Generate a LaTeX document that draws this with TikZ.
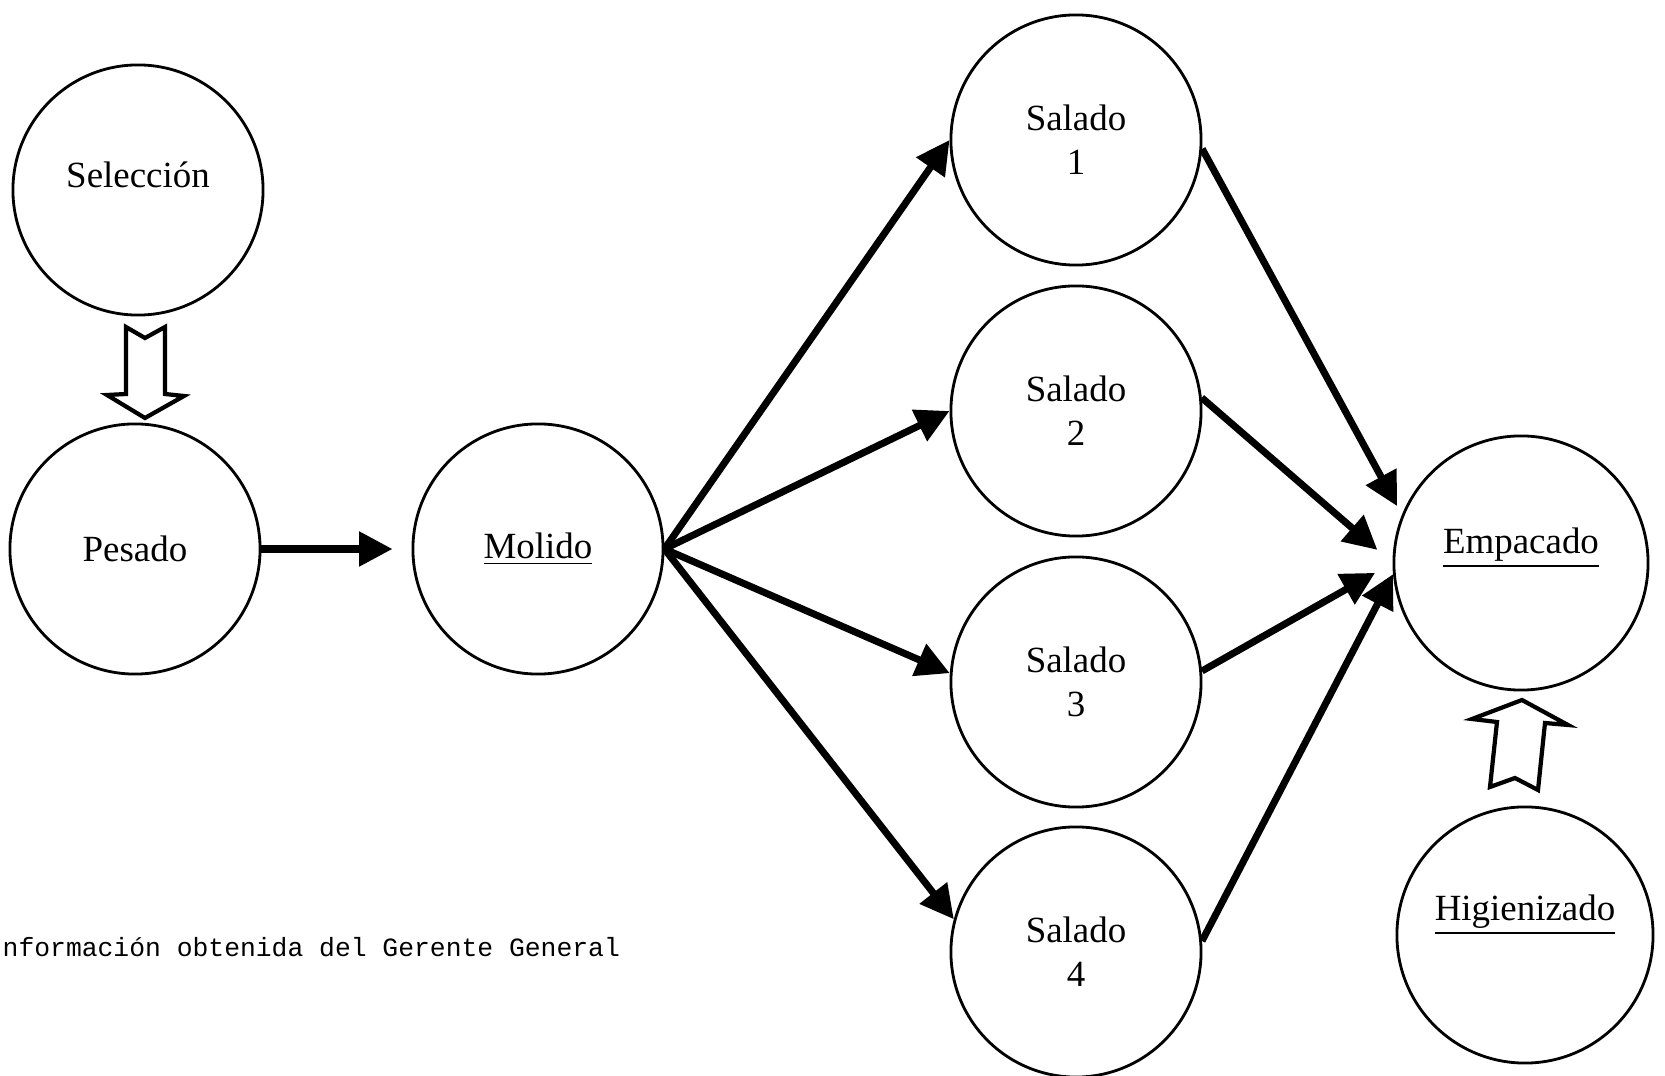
\documentclass[tikz,border=0pt]{standalone}
\usepackage{fontspec}
\setmainfont{Liberation Serif}
\setmonofont{Liberation Mono}
\usetikzlibrary{arrows.meta,calc}

\begin{document}
\begin{tikzpicture}[x=0.01cm, y=-0.01cm,
    every node/.style={font=\fontsize{10.5}{12.5}\selectfont},
    proc/.style={draw, circle, line width=0.8pt, minimum size=2.5cm, align=center, inner sep=0pt},
    flow/.style={-{Triangle[length=9.5pt,width=9.5pt]}, line width=2pt},
    hollow/.style={draw, line width=1.2pt, fill=white, line join=miter}]
  \useasboundingbox (0,0) rectangle (1665,1076);
  % stations
  \node[proc, text depth=0.3cm] (sel) at (138,190) {Selección};
  \node[proc] (pes) at (135,549) {Pesado};
  \node[proc] (mol) at (538,549) {\underline{Molido}};
  \foreach \k/\yy in {1/140, 2/411, 3/682, 4/952}
    \node[proc] (s\k) at (1076,\yy) {Salado\\\k};
  \node[proc, text depth=0.45cm, minimum size=2.54cm] (emp) at (1521,563) {\underline{Empacado}};
  \node[proc, text depth=0.55cm, minimum size=2.56cm] (hig) at (1525,935) {\underline{Higienizado}};
  % flow
  \draw[flow, shorten >=0.19cm] (pes.east) -- (mol.west);
  \foreach \k/\ang in {1/180, 2/180, 3/176, 4/165}
    \draw[flow] (mol.east) -- (s\k.\ang);
  \draw[flow, shorten >=0.1cm] (s1.-4) -- (emp.158);
  \draw[flow, shorten >=0.2cm] (s2.6) -- (emp.west);
  \draw[flow, shorten >=0.2cm] (s3.5) -- (emp.west);
  \draw[flow] (s4.5) -- (emp.185);
  % hollow arrows
  \draw[hollow] (126,327) -- (145,338) -- (165,327) -- (165,394) -- (184,396)
    -- (145,418) -- (107,395) -- (126,394) -- cycle;
  \draw[hollow] (1522,700) -- (1568,725) -- (1545,723) -- (1538,790) -- (1515,778)
    -- (1490,787) -- (1497,722) -- (1472,719) -- cycle;
  \node[anchor=base west, inner sep=0pt, font=\ttfamily\fontsize{7.5}{9}\selectfont] (src) at (2,957)
    {nformación obtenida del Gerente General};
\end{tikzpicture}
\end{document}
